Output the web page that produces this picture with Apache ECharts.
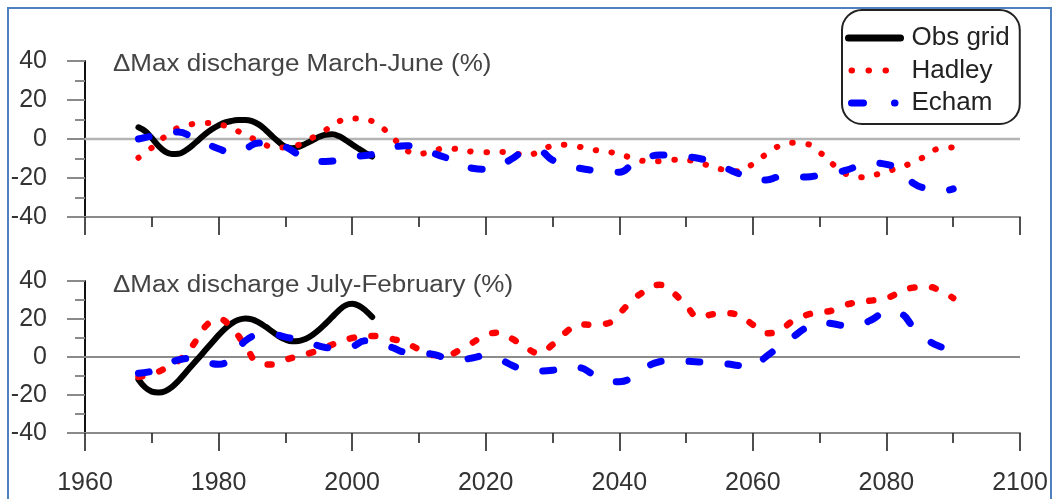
<!DOCTYPE html>
<html>
<head>
<meta charset="utf-8">
<script src="https://cdn.jsdelivr.net/npm/echarts@6/dist/echarts.min.js"></script>
<style>
  html, body { margin: 0; padding: 0; background: #fff; }
  #chart { width: 1053px; height: 499px; }
</style>
</head>
<body>
<div id="chart"></div>
<script>
// Years and percent change in maximum discharge
const xMin = 1960, xMax = 2100;
const yTicks = [-40, -20, 0, 20, 40];

// Observed record (grid), yearly, March-June and July-February
const obsYears = [];
for (let y = 1968; y <= 2003; y++) obsYears.push(y);
const obsSpring = [6, 4, 0.5, -3.5, -6.5, -7.7, -7.6, -6, -3.5, -0.5, 2.5, 5, 7, 8.5, 9.3, 9.7, 9.8, 9.2,
  7.5, 4.8, 1.5, -1.5, -4, -4.7, -4, -2.5, -0.8, 1, 2.2, 2.4, 1.5, -0.5, -2.8, -5, -7.2, -9];
const obsWinter = [-11.8, -16, -18.2, -18.7, -18, -15.8, -12.5, -8.5, -4.5, -0.5, 3.5, 7.5, 11.5, 15, 17.8, 19.6, 20.3, 19.8,
  18.2, 16, 13.5, 11, 9.2, 8.3, 8.4, 9.5, 11.5, 14.2, 17.5, 21, 24.5, 27.2, 28, 27, 24.5, 21];

// Model runs, every two years 1968-2090
const modelYears = [];
for (let y = 1968; y <= 2090; y += 2) modelYears.push(y);

const hadleySpring = [-9.6, -4.5, 1.3, 5.9, 7.6, 8.2, 7.5, 5.5, 2, -1, -4, -4.4, -3, 0.5, 4.5, 9, 10.5, 10, 7, 1,
  -5.5, -7.6, -6.2, -4.8, -5.3, -6.5, -6.8, -6.6, -7.1, -8.3, -6.5, -3.5, -3, -4, -5.5, -6.4, -7.8, -9.8, -11.3, -11.4,
  -10.7, -10.8, -12.3, -14.2, -16, -16.5, -12.8, -7.8, -3.5, -1.9, -2.5, -6.8, -13, -18, -19.6, -18.6, -16.7, -14.5, -12, -8.5,
  -4.8, -4.3];
const echamSpring = [0, 1.5, 3, 3.6, 1, -2, -5, -7, -5, -2, -2, -4, -8, -11, -11.5, -10.7, -9, -8.5, -7, -4.5,
  -3.5, -4, -7, -9.5, -11.5, -15, -15.5, -14, -10, -6.5, -6.5, -10.8, -13.5, -15, -16, -16.5, -17, -13, -10, -8.2,
  -8.2, -9, -10, -12, -15, -18, -21, -21, -19.5, -19.5, -19.5, -18.5, -17.4, -16, -13.5, -12.3, -13, -16, -22.6, -25.5,
  -26.7, -25.6];

const hadleyWinter = [-10.5, -9, -6, -2, 5.5, 16, 20, 15, 6, -3, -4, -1.5, 0.5, 2.4, 5, 7.8, 10, 11, 11, 9.5,
  7.5, 4, 1, 0.8, 3.5, 7.5, 11.5, 12.8, 9.5, 5, 2, 6.5, 13, 17.2, 17, 17.5, 23, 30, 35, 38,
  34, 27, 21, 22.5, 23, 21.8, 17, 12.5, 14, 19, 22.1, 23.5, 24.6, 27.5, 29, 29.8, 31, 34, 36.5, 37,
  35, 31];
const echamWinterYears = modelYears.concat([2092]);
const echamWinter = [-8.5, -7.5, -4.5, -1.5, -0.7, -2.5, -3.8, 0, 8.5, 11.5, 12, 10.5, 9, 7, 5, 4.5, 5.5, 8.5, 7.5, 5,
  2.5, 2, 1.5, -0.5, -1.5, -0.5, 0.8, -1, -4.5, -7, -7.4, -7, -5, -5.5, -9, -12.5, -13, -10.5, -5.5, -2.5,
  -1.8, -2.2, -2.6, -3.2, -3.6, -4.5, -5, 0.3, 5.5, 10.5, 15.5, 18.3, 17.5, 16.5, 17.2, 20, 24, 23, 16, 9.5,
  5.5, 4.2, 2.5];

const panelTitles = ['\u0394Max discharge March-June (%)', '\u0394Max discharge July-February (%)'];
const seriesNames = ['Obs grid', 'Hadley', 'Echam'];

const zip = (xs, ys) => ys.map((v, i) => [xs[i], v]);
const FONT = 'Liberation Sans, Arial, sans-serif';

function xAxisFor(idx, showLabels) {
  return {
    type: 'value', gridIndex: idx, min: xMin, max: xMax, interval: 20,
    axisLine: { show: true, onZero: false, lineStyle: { color: '#8a8a8a', width: 2 } },
    axisTick: { show: true, length: 18, lineStyle: { color: '#222', width: 1.6 } },
    minorTick: { show: true, splitNumber: 2, length: 10, lineStyle: { color: '#222', width: 1.6 } },
    splitLine: { show: false },
    minorSplitLine: { show: false },
    axisLabel: {
      show: showLabels, margin: 38, color: '#333', fontSize: 25, fontFamily: FONT,
      showMinLabel: true, showMaxLabel: true,
      formatter: v => String(v)
    }
  };
}
function yAxisFor(idx) {
  return {
    type: 'value', gridIndex: idx, min: yTicks[0], max: yTicks[yTicks.length - 1], interval: 20,
    axisLine: { show: true, lineStyle: { color: '#111', width: 2 } },
    axisTick: { show: true, length: 18, lineStyle: { color: '#8a8a8a', width: 2 } },
    minorTick: { show: true, splitNumber: 2, length: 10, lineStyle: { color: '#8a8a8a', width: 2 } },
    splitLine: { show: false },
    minorSplitLine: { show: false },
    axisLabel: { margin: 38, color: '#333', fontSize: 25, fontFamily: FONT }
  };
}

const obsStyle = { color: '#000', width: 6, cap: 'round' };
const echamStyle = { color: '#0000ff', width: 7, type: [11, 28], cap: 'round' };

function zeroSeries(idx, color, width) {
  return {
    type: 'line', xAxisIndex: idx, yAxisIndex: idx, silent: true, z: 1,
    symbol: 'none', data: [[xMin, 0], [xMax, 0]],
    lineStyle: { color: color, width: width }
  };
}
function obsSeries(idx, xs, ys) {
  return {
    name: seriesNames[0], type: 'line', xAxisIndex: idx, yAxisIndex: idx, z: 3,
    smooth: 0.4, symbol: 'none', data: zip(xs, ys),
    itemStyle: { color: '#000' }, lineStyle: obsStyle
  };
}
function hadleySeries(idx, xs, ys, dash, width) {
  return {
    name: seriesNames[1], type: 'line', xAxisIndex: idx, yAxisIndex: idx, z: 4,
    smooth: 0.5, symbol: 'none', data: zip(xs, ys),
    itemStyle: { color: '#ff0000' },
    lineStyle: { color: '#ff0000', width: width, type: dash, cap: 'round' }
  };
}
function echamSeries(idx, xs, ys) {
  return {
    name: seriesNames[2], type: 'line', xAxisIndex: idx, yAxisIndex: idx, z: 5,
    smooth: 0.5, symbol: 'none', data: zip(xs, ys),
    itemStyle: { color: '#0000ff' }, lineStyle: echamStyle
  };
}

function panelTitle(text, cy) {
  return {
    type: 'text', x: 113, y: cy, scaleX: 1.13, silent: true, z: 20,
    style: { text: text, font: '23px ' + FONT, fill: '#444', align: 'left', verticalAlign: 'middle' }
  };
}

const chart = echarts.init(document.getElementById('chart'), null, { renderer: 'canvas' });
chart.setOption({
  backgroundColor: '#fff',
  animation: false,
  textStyle: { fontFamily: FONT },
  graphic: [
    { type: 'rect', silent: true, z: 0,
      shape: { x: 8, y: 8, width: 1043, height: 500 },
      style: { fill: 'none', stroke: '#4f81bd', lineWidth: 2 } },
    panelTitle(panelTitles[0], 65),
    panelTitle(panelTitles[1], 286)
  ],
  legend: {
    orient: 'vertical', left: 842, top: 10,
    padding: [14, 10, 7, 3],
    itemWidth: 52, itemHeight: 20, itemGap: 4.5,
    backgroundColor: '#fff', borderColor: '#222', borderWidth: 2, borderRadius: 20,
    itemStyle: { opacity: 0 },
    textStyle: { fontSize: 26, color: '#222', fontFamily: FONT, lineHeight: 28, padding: [0, 0, 0, 6] },
    data: [
      { name: seriesNames[0], lineStyle: { color: '#000', width: 7, type: 'solid', cap: 'round' } },
      { name: seriesNames[1], lineStyle: { color: '#ff0000', width: 6, type: [0.5, 16.5, 0.5, 16.5, 0.5, 40], cap: 'round', dashOffset: -3 } },
      { name: seriesNames[2], lineStyle: { color: '#0000ff', width: 7, type: [12, 31, 0.5, 40], cap: 'round', dashOffset: -3 } }
    ],
    z: 10
  },
  grid: [
    { left: 85, right: 33, top: 61, height: 156 },
    { left: 85, right: 33, top: 281, height: 152 }
  ],
  xAxis: [xAxisFor(0, false), xAxisFor(1, true)],
  yAxis: [yAxisFor(0), yAxisFor(1)],
  series: [
    zeroSeries(0, '#b4b4b4', 2.5),
    obsSeries(0, obsYears, obsSpring),
    hadleySeries(0, modelYears, hadleySpring, [0.5, 15.5], 6),
    echamSeries(0, modelYears, echamSpring),
    zeroSeries(1, '#8c8c8c', 2),
    obsSeries(1, obsYears, obsWinter),
    hadleySeries(1, modelYears, hadleyWinter, [4, 17.7], 6.5),
    echamSeries(1, echamWinterYears, echamWinter)
  ]
});
</script>
</body>
</html>
